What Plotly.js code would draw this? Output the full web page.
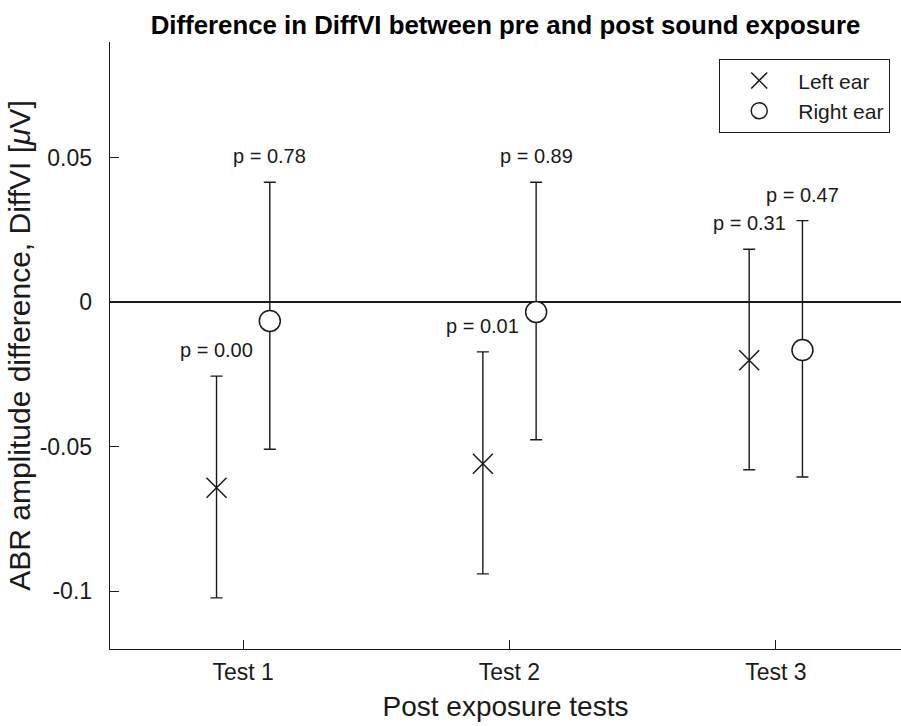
<!DOCTYPE html>
<html>
<head>
<meta charset="utf-8">
<script src="https://cdn.plot.ly/plotly-3.0.1.min.js"></script>
<style>html,body{margin:0;padding:0;background:#fff;}#chart{width:901px;height:726px;}</style>
</head>
<body>
<div id="chart"></div>
<script>
// ---- data ----
const categories = ['Test 1', 'Test 2', 'Test 3'];
const leftMean  = [-0.0642, -0.0559, -0.0201];
const leftUpper = [-0.0256, -0.0172,  0.0183];
const leftLower = [-0.1023, -0.0940, -0.0580];
const rightMean  = [-0.0065, -0.0034, -0.0166];
const rightUpper = [ 0.0415,  0.0415,  0.0282];
const rightLower = [-0.0509, -0.0476, -0.0605];
const leftP  = ['p = 0.00', 'p = 0.01', 'p = 0.31'];
const rightP = ['p = 0.78', 'p = 0.89', 'p = 0.47'];
const yTickVals = [-0.1, -0.05, 0, 0.05];
const yTickText = ['-0.1', '-0.05', '0', '0.05'];

// ---- layout helpers ----
const dx = 0.1; // group offset of the two ears around each category
const pos = categories.map((c, i) => i + 1);
const xLeft = pos.map(p => p - dx);
const xRight = pos.map(p => p + dx);
const ink = '#1a1a1a';
const FONT = '"Liberation Sans", Arial, Helvetica, sans-serif';

function errTrace(name, x, mean, upper, lower, marker) {
  return {
    type: 'scatter', mode: 'markers', name: name,
    x: x, y: mean,
    error_y: {
      type: 'data', symmetric: false,
      array: upper.map((u, i) => u - mean[i]),
      arrayminus: mean.map((m, i) => m - lower[i]),
      color: ink, thickness: 1.4, width: 6
    },
    marker: marker,
    cliponaxis: false
  };
}

const traces = [
  errTrace('Left ear', xLeft, leftMean, leftUpper, leftLower,
    {symbol: 'x-thin-open', size: 20, color: ink, line: {color: ink, width: 1.5}}),
  errTrace('Right ear', xRight, rightMean, rightUpper, rightLower,
    {symbol: 'circle', size: 21, color: '#ffffff', line: {color: ink, width: 1.5}})
];

const annotations = [];
leftP.forEach((t, i) => annotations.push({
  x: xLeft[i], y: leftUpper[i], xref: 'x', yref: 'y', text: t, showarrow: false,
  yshift: 26, font: {family: FONT, size: 20, color: ink}
}));
rightP.forEach((t, i) => annotations.push({
  x: xRight[i], y: rightUpper[i], xref: 'x', yref: 'y', text: t, showarrow: false,
  yshift: 26, font: {family: FONT, size: 20, color: ink}
}));

const layout = {
  width: 901, height: 726,
  margin: {l: 110, r: 0, t: 42, b: 77},
  paper_bgcolor: '#ffffff', plot_bgcolor: '#ffffff',
  font: {family: FONT, color: ink},
  title: {
    text: '<b>Difference in DiffVI between pre and post sound exposure</b>',
    font: {family: FONT, size: 25.8, color: '#000'},
    x: 0.5, xref: 'paper', xanchor: 'center',
    y: 1 - 25 / 726, yref: 'container', yanchor: 'middle'
  },
  xaxis: {
    range: [0.5, 3.47], tickvals: pos, ticktext: categories,
    showline: true, linecolor: ink, linewidth: 1.3,
    ticks: 'inside', ticklen: 9, tickcolor: ink, tickwidth: 1.2,
    showgrid: false, zeroline: false,
    tickfont: {family: FONT, size: 23, color: ink}, ticklabelstandoff: 2,
    title: {text: 'Post exposure tests', font: {family: FONT, size: 28, color: ink}, standoff: 12}
  },
  yaxis: {
    range: [-0.12, 0.09], tickvals: yTickVals, ticktext: yTickText,
    showline: true, linecolor: ink, linewidth: 1.3,
    ticks: 'inside', ticklen: 9, tickcolor: ink, tickwidth: 1.2,
    showgrid: false, zeroline: true, zerolinecolor: ink, zerolinewidth: 1.3,
    tickfont: {family: FONT, size: 23, color: ink}, ticklabelstandoff: 12,
    title: {text: 'ABR amplitude difference, DiffVI [<i>μ</i>V]', font: {family: FONT, size: 30, color: ink}, standoff: 0}
  },
  showlegend: true,
  legend: {
    x: 0.986, xanchor: 'right', y: 0.972, yanchor: 'top',
    bordercolor: ink, borderwidth: 1.3, bgcolor: '#ffffff',
    font: {family: FONT, size: 21, color: ink},
    itemwidth: 68, tracegroupgap: 0
  },
  annotations: annotations
};

Plotly.newPlot('chart', traces, layout, {displayModeBar: false, staticPlot: true});
</script>
</body>
</html>
